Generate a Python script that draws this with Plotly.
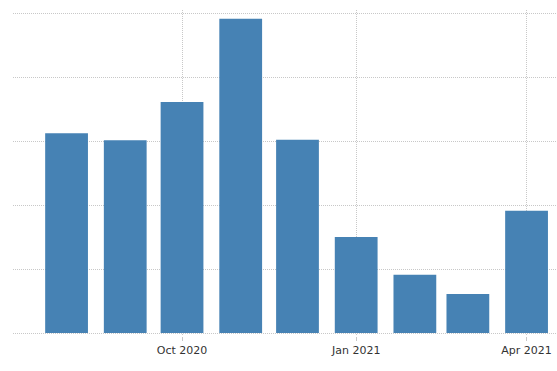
import plotly.graph_objects as go

months = ["2020-08-01", "2020-09-01", "2020-10-01", "2020-11-01", "2020-12-01",
          "2021-01-01", "2021-02-01", "2021-03-01", "2021-04-01"]
values = [3.12, 3.01, 3.61, 4.91, 3.02, 1.50, 0.91, 0.61, 1.91]
tick_dates = ["2020-10-01", "2021-01-01", "2021-04-01"]
tick_labels = ["Oct 2020", "Jan 2021", "Apr 2021"]

bar_width_ms = 22.6 * 86400000

fig = go.Figure(go.Bar(
    x=months, y=values,
    width=[bar_width_ms] * len(months),
    marker=dict(color="#4682B4", line=dict(width=0)),
    hoverinfo="x+y",
))

fig.update_layout(
    width=557, height=371,
    margin=dict(l=13, r=0, t=10, b=35),
    paper_bgcolor="white", plot_bgcolor="white",
    showlegend=False,
    font=dict(family="DejaVu Sans", size=11, color="#333333"),
)
fig.update_xaxes(
    type="date",
    range=["2020-07-03 17:00", "2021-04-17 02:00"],
    tickvals=tick_dates, ticktext=tick_labels,
    showgrid=True, gridcolor="#c8c8c8", griddash="1px,1px", gridwidth=1,
    ticks="outside", ticklen=4, tickcolor="#c8c8c8",
    showline=False, zeroline=False,
    tickfont=dict(family="DejaVu Sans", size=11, color="#333333"),
)
fig.update_yaxes(
    range=[-0.046875, 5.046875], dtick=1,
    showticklabels=False,
    showgrid=True, gridcolor="#c8c8c8", griddash="1px,1px", gridwidth=1,
    zeroline=False, showline=False,
)

fig.write_html("out.html")
